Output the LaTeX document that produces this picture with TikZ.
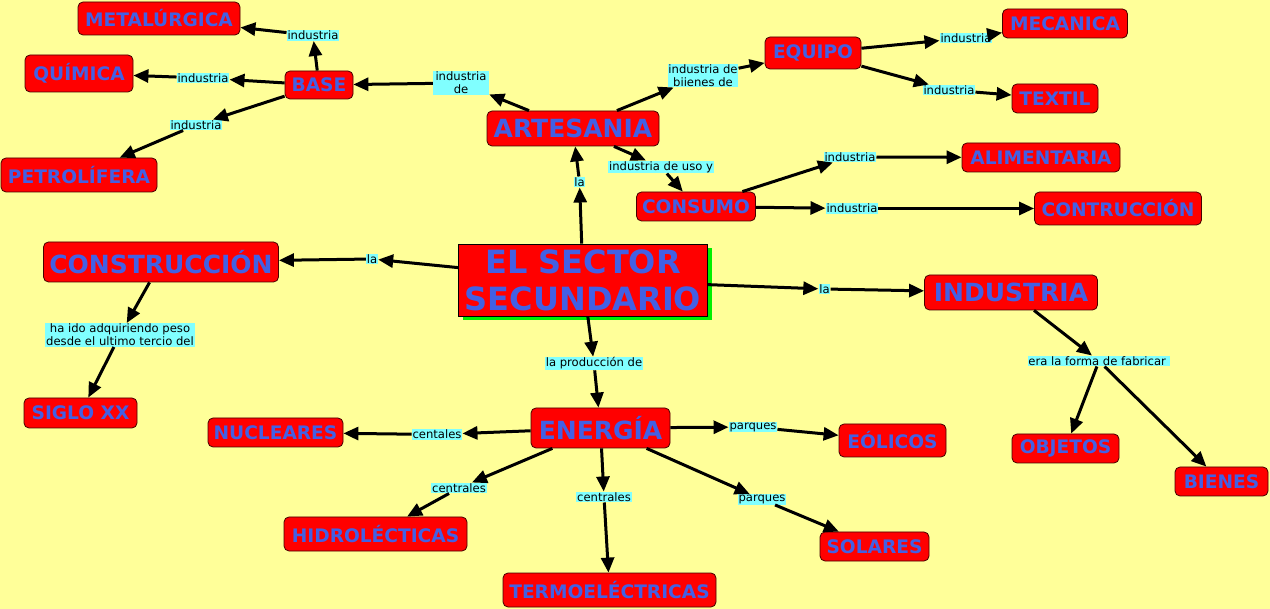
\documentclass[tikz,border=0pt]{standalone}
\usepackage{fontspec}
\setmainfont{DejaVu Sans}
\usetikzlibrary{arrows.meta,shadows}
\definecolor{bgy}{RGB}{255,255,153}
\definecolor{cred}{RGB}{255,0,0}
\definecolor{cblue}{RGB}{66,96,228}
\definecolor{lcyan}{RGB}{128,255,255}
\definecolor{cgreen}{RGB}{0,240,0}
\definecolor{cborder}{RGB}{70,0,0}
\begin{document}
\begin{tikzpicture}[x=1pt,y=-1pt,
  concept/.style={draw=cborder, line width=0.8pt, fill=cred, rounded corners=5pt, text=cblue,
    font=\bfseries\fontsize{18.6}{20}\selectfont, inner sep=0pt},
  big/.style={font=\bfseries\fontsize{25}{26}\selectfont},
  lbl/.style={fill=lcyan, text=black, font=\fontsize{11.6}{13}\selectfont,
    inner xsep=0.8pt, inner ysep=0.8pt, align=center},
  arr/.style={-{Triangle[length=15pt,width=13pt]}, line width=3pt}]
\useasboundingbox (0,0) rectangle (1270,609);
\fill[bgy] (0,0) rectangle (1270,609);

% concepts
\node[draw=black, line width=0.8pt, fill=cred, text=cblue, inner sep=0pt,
  minimum width=249pt, minimum height=72pt, align=center,
  font=\bfseries\fontsize{32}{37}\selectfont,
  general shadow={fill=cgreen, shadow xshift=4pt, shadow yshift=-4pt}]
  (sector) at (583,280) {EL SECTOR\\SECUNDARIO};
\node[concept, minimum width=162pt, minimum height=33pt] (metal) at (159,18.5) {METALÚRGICA};
\node[concept, minimum width=108pt, minimum height=37pt] (quim) at (79,73.5) {QUÍMICA};
\node[concept, minimum width=68pt, minimum height=28pt] (base) at (319,85) {BASE};
\node[concept, minimum width=156pt, minimum height=34pt] (petro) at (79,175) {PETROLÍFERA};
\node[concept, big, minimum width=172pt, minimum height=35pt] (arte) at (573,128.5) {ARTESANIA};
\node[concept, minimum width=96pt, minimum height=32pt] (equipo) at (813,53) {EQUIPO};
\node[concept, minimum width=125pt, minimum height=29pt] (mec) at (1065,23.5) {MECANICA};
\node[concept, minimum width=86pt, minimum height=29pt] (textil) at (1055,98.5) {TEXTIL};
\node[concept, minimum width=119pt, minimum height=29pt] (consumo) at (696,206.5) {CONSUMO};
\node[concept, minimum width=158pt, minimum height=29pt] (alim) at (1041,157.5) {ALIMENTARIA};
\node[concept, minimum width=167pt, minimum height=33pt] (contr) at (1118,208.5) {CONTRUCCIÓN};
\node[concept, big, minimum width=235pt, minimum height=40pt] (constr) at (161,262) {CONSTRUCCIÓN};
\node[concept, big, minimum width=173pt, minimum height=35pt] (indus) at (1011,292.5) {INDUSTRIA};
\node[concept, minimum width=113pt, minimum height=30pt] (siglo) at (80.5,413) {SIGLO XX};
\node[concept, minimum width=135pt, minimum height=29pt] (nucl) at (275.5,432.5) {NUCLEARES};
\node[concept, big, minimum width=139pt, minimum height=40pt] (energ) at (600.5,428) {ENERGÍA};
\node[concept, minimum width=107pt, minimum height=33pt] (eol) at (892.5,440.5) {EÓLICOS};
\node[concept, minimum width=107pt, minimum height=29pt] (obj) at (1065.5,448.5) {OBJETOS};
\node[concept, minimum width=93pt, minimum height=29pt] (bienes) at (1221.5,481.5) {BIENES};
\node[concept, minimum width=183pt, minimum height=34pt] (hidro) at (375.5,534) {HIDROLÉCTICAS};
\node[concept, minimum width=109pt, minimum height=29pt] (solar) at (874.5,546.5) {SOLARES};
\node[concept, minimum width=213pt, minimum height=34pt] (termo) at (609.5,590) {TERMOELÉCTRICAS};

% linking phrases
\node[lbl] (lmetal) at (313,35.5) {industria};
\node[lbl] (lquim) at (203,78) {industria};
\node[lbl] (lpetro) at (196,125) {industria};
\node[lbl, minimum width=56pt] (lbase) at (461,83) {industria\\de};
\node[lbl] (lequipo) at (703,75.5) {industria de\\biienes de};
\node[lbl] (lconsumo) at (661,167) {industria de uso y};
\node[lbl] (larte) at (579.5,182) {la};
\node[lbl] (lmec) at (966,38) {industria};
\node[lbl] (ltextil) at (949,90) {industria};
\node[lbl] (lalim) at (850,157) {industria};
\node[lbl] (lcontr) at (852,208.5) {industria};
\node[lbl] (lconstr) at (372,259) {la};
\node[lbl] (lsiglo) at (120,335) {ha ido adquiriendo peso\\desde el ultimo tercio del};
\node[lbl] (lindus) at (824.5,289) {la};
\node[lbl] (lobj) at (1099,361) {era la forma de fabricar\ };
\node[lbl] (lenerg) at (594,363.5) {la producción de};
\node[lbl] (lnucl) at (437,434.5) {centales};
\node[lbl] (leol) at (753,427) {parques};
\node[lbl] (lsolar) at (762,499.5) {parques};
\node[lbl] (lhidro) at (459,488) {centrales};
\node[lbl] (ltermo) at (604,497) {centrales};

% connectors
\draw[arr] (sector) -- (larte);
\draw[arr] (larte) -- (arte);
\draw[arr] (sector) -- (lconstr);
\draw[arr] (lconstr) -- (constr);
\draw[arr] (sector) -- (lindus);
\draw[arr] (lindus) -- (indus);
\draw[arr] (sector) -- (lenerg);
\draw[arr] (lenerg) -- (energ);

\draw[arr] (arte) -- (lbase);
\draw[arr] (lbase) -- (base);
\draw[arr] (arte) -- (lequipo);
\draw[arr] (lequipo) -- (equipo);
\draw[arr] (arte) -- (lconsumo);
\draw[arr] (lconsumo) -- (consumo);

\draw[arr] (base) -- (lmetal);
\draw[arr] (lmetal) -- (metal);
\draw[arr] (base) -- (lquim);
\draw[arr] (lquim) -- (quim);
\draw[arr] (base) -- (lpetro);
\draw[arr] (lpetro) -- (petro);

\draw[arr] (equipo) -- (lmec);
\draw[arr] (lmec) -- (mec);
\draw[arr] (equipo) -- (ltextil);
\draw[arr] (ltextil) -- (textil);

\draw[arr] (consumo) -- (lalim);
\draw[arr] (lalim) -- (alim);
\draw[arr] (consumo) -- (lcontr);
\draw[arr] (lcontr) -- (contr);

\draw[arr] (constr) -- (lsiglo);
\draw[arr] (lsiglo) -- (siglo);

\draw[arr] (indus) -- (lobj);
\draw[arr] (lobj) -- (obj);
\draw[arr] (lobj) -- (bienes);

\draw[arr] (energ) -- (lnucl);
\draw[arr] (lnucl) -- (nucl);
\draw[arr] (energ) -- (leol);
\draw[arr] (leol) -- (eol);
\draw[arr] (energ) -- (lsolar);
\draw[arr] (lsolar) -- (solar);
\draw[arr] (energ) -- (lhidro);
\draw[arr] (lhidro) -- (hidro);
\draw[arr] (energ) -- (ltermo);
\draw[arr] (ltermo) -- (termo);
\end{tikzpicture}
\end{document}
